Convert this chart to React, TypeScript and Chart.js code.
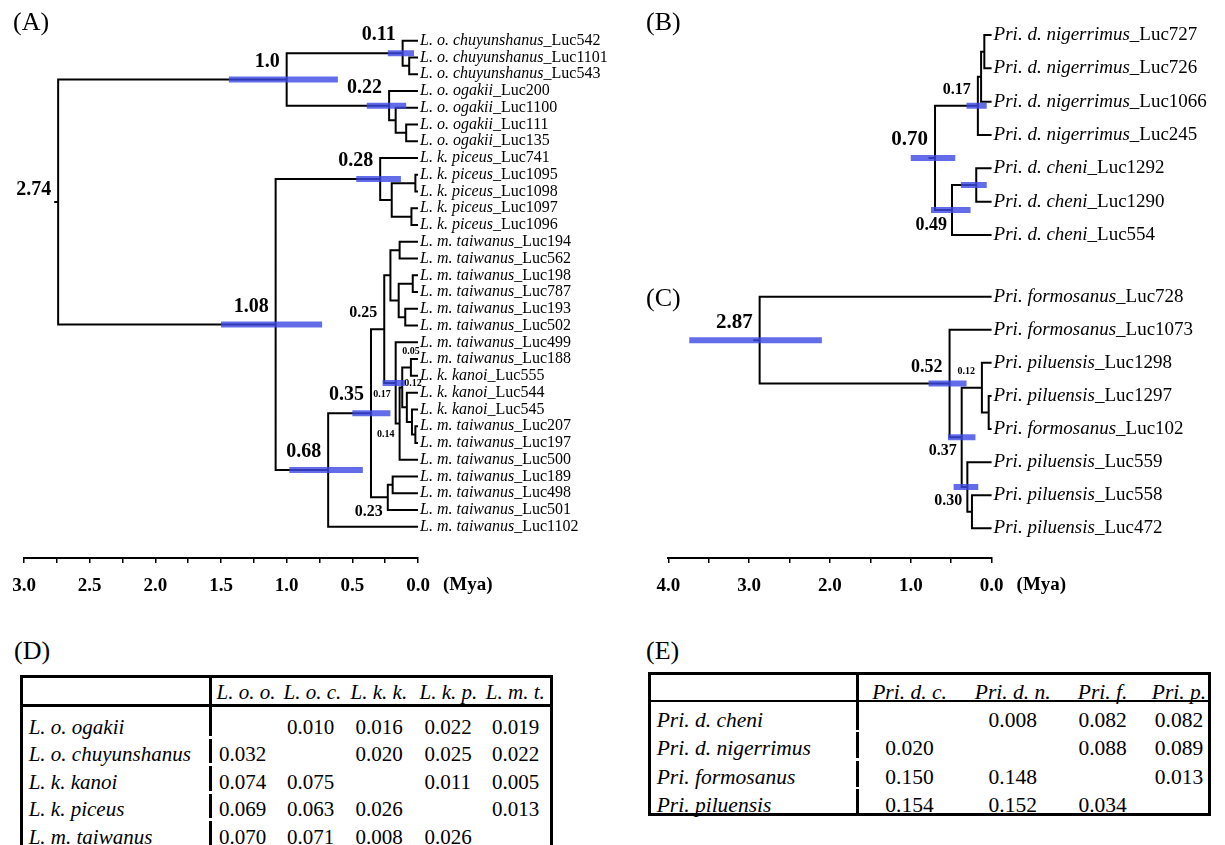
import React, { useEffect, useRef } from 'react';
import { Chart, registerables } from 'chart.js';
Chart.register(...registerables);

const SERIF = '"Liberation Serif", "Times New Roman", Times, serif';
const BAR = 'rgba(60,72,228,0.8)';
const SIZES: Record<string, number> = { xl: 21, lg: 20, ml: 18, md: 16, sm: 10 };

type Child = number | string;
type NodeDef = [string, number, Child, Child];

// ---------------- Panel A ----------------
const tipSpeciesA = [
  'L. o. chuyunshanus', 'L. o. chuyunshanus', 'L. o. chuyunshanus',
  'L. o. ogakii', 'L. o. ogakii', 'L. o. ogakii', 'L. o. ogakii',
  'L. k. piceus', 'L. k. piceus', 'L. k. piceus', 'L. k. piceus', 'L. k. piceus',
  'L. m. taiwanus', 'L. m. taiwanus', 'L. m. taiwanus', 'L. m. taiwanus', 'L. m. taiwanus', 'L. m. taiwanus',
  'L. m. taiwanus', 'L. m. taiwanus', 'L. k. kanoi', 'L. k. kanoi', 'L. k. kanoi',
  'L. m. taiwanus', 'L. m. taiwanus', 'L. m. taiwanus', 'L. m. taiwanus', 'L. m. taiwanus', 'L. m. taiwanus', 'L. m. taiwanus',
];
const tipCodesA = [
  'Luc542', 'Luc1101', 'Luc543', 'Luc200', 'Luc1100', 'Luc111', 'Luc135',
  'Luc741', 'Luc1095', 'Luc1098', 'Luc1097', 'Luc1096',
  'Luc194', 'Luc562', 'Luc198', 'Luc787', 'Luc193', 'Luc502', 'Luc499', 'Luc188',
  'Luc555', 'Luc544', 'Luc545', 'Luc207', 'Luc197', 'Luc500', 'Luc189', 'Luc498', 'Luc501', 'Luc1102',
];
// [node id, age (Mya), child, child]  (numbers = tip index)
const nodesA: NodeDef[] = [
  ['c1', 0.067, 1, 2],
  ['n011', 0.117, 0, 'c1'],
  ['o3', 0.09, 5, 6],
  ['o2', 0.17, 4, 'o3'],
  ['n022', 0.22, 3, 'o2'],
  ['n10', 1.0, 'n011', 'n022'],
  ['p2', 0.02, 8, 9],
  ['p3', 0.05, 10, 11],
  ['p1', 0.2, 'p2', 'p3'],
  ['n028', 0.288, 7, 'p1'],
  ['t1', 0.14, 12, 13],
  ['t3', 0.04, 14, 15],
  ['t4', 0.097, 16, 17],
  ['t2', 0.147, 't3', 't4'],
  ['u', 0.21, 't1', 't2'],
  ['kp1', 0.054, 19, 20],
  ['kp2', 0.02, 23, 24],
  ['k5', 0.046, 22, 'kp2'],
  ['k4', 0.085, 21, 'k5'],
  ['k3', 0.12, 'kp1', 'k4'],
  ['k2', 0.14, 'k3', 25],
  ['k', 0.17, 18, 'k2'],
  ['n025', 0.257, 'u', 'k'],
  ['m2', 0.193, 26, 27],
  ['n023', 0.23, 'm2', 28],
  ['n035', 0.358, 'n025', 'n023'],
  ['n068', 0.684, 'n035', 29],
  ['n108', 1.084, 'n028', 'n068'],
  ['rootA', 2.74, 'n10', 'n108'],
];
// [node id, 95% HPD low, high]
const hpdA: [string, number, number][] = [
  ['n10', 0.61, 1.44], ['n011', 0.03, 0.23], ['n022', 0.09, 0.39], ['n108', 0.73, 1.5],
  ['n028', 0.13, 0.47], ['n068', 0.42, 0.98], ['n035', 0.21, 0.5], ['k', 0.1, 0.27],
];
// [node id, text, size key, placement]
const labelsA: [string, string, string, string][] = [
  ['rootA', '2.74', 'lg', 'left'], ['n10', '1.0', 'lg', 'above'], ['n011', '0.11', 'lg', 'above'],
  ['n022', '0.22', 'lg', 'above'], ['n028', '0.28', 'lg', 'above'], ['n108', '1.08', 'lg', 'above'],
  ['n068', '0.68', 'lg', 'above'], ['n035', '0.35', 'lg', 'above'], ['n025', '0.25', 'md', 'above'],
  ['n023', '0.23', 'md', 'below'], ['kp1', '0.05', 'sm', 'aboveC'], ['k', '0.17', 'sm', 'below'],
  ['k2', '0.14', 'sm', 'below'], ['k3', '0.12', 'sm', 'right'],
];
const rootStemA = 0.03;
const tickLabelsA = [3.0, 2.5, 2.0, 1.5, 1.0, 0.5, 0.0];

// ---------------- Panel B ----------------
const tipSpeciesB = [
  'Pri. d. nigerrimus', 'Pri. d. nigerrimus', 'Pri. d. nigerrimus', 'Pri. d. nigerrimus',
  'Pri. d. cheni', 'Pri. d. cheni', 'Pri. d. cheni',
];
const tipCodesB = ['Luc727', 'Luc726', 'Luc1066', 'Luc245', 'Luc1292', 'Luc1290', 'Luc554'];
const nodesB: NodeDef[] = [
  ['b1', 0.09, 0, 1],
  ['b2', 0.13, 'b1', 2],
  ['b017', 0.17, 'b2', 3],
  ['bc', 0.19, 4, 5],
  ['b049', 0.49, 'bc', 6],
  ['rootB', 0.7, 'b017', 'b049'],
];
const hpdB: [string, number, number][] = [
  ['rootB', 0.45, 1.0], ['b017', 0.06, 0.31], ['bc', 0.06, 0.38], ['b049', 0.26, 0.75],
];
const labelsB: [string, string, string, string][] = [
  ['rootB', '0.70', 'xl', 'above'], ['b017', '0.17', 'md', 'above'], ['b049', '0.49', 'ml', 'below'],
];
const rootStemB = 0.08;

// ---------------- Panel C ----------------
const tipSpeciesC = [
  'Pri. formosanus', 'Pri. formosanus', 'Pri. piluensis', 'Pri. piluensis',
  'Pri. formosanus', 'Pri. piluensis', 'Pri. piluensis', 'Pri. piluensis',
];
const tipCodesC = ['Luc728', 'Luc1073', 'Luc1298', 'Luc1297', 'Luc102', 'Luc559', 'Luc558', 'Luc472'];
const nodesC: NodeDef[] = [
  ['cp1', 0.036, 3, 4],
  ['c012', 0.12, 2, 'cp1'],
  ['cp2', 0.243, 6, 7],
  ['c030', 0.3, 5, 'cp2'],
  ['c037', 0.37, 'c012', 'c030'],
  ['c052', 0.52, 1, 'c037'],
  ['rootC', 2.87, 0, 'c052'],
];
const hpdC: [string, number, number][] = [
  ['rootC', 2.1, 3.74], ['c052', 0.31, 0.78], ['c037', 0.2, 0.54], ['c030', 0.165, 0.47],
];
const labelsC: [string, string, string, string][] = [
  ['rootC', '2.87', 'xl', 'above'], ['c052', '0.52', 'ml', 'above'], ['c012', '0.12', 'sm', 'above'],
  ['c037', '0.37', 'md', 'below'], ['c030', '0.30', 'md', 'below'],
];
const rootStemC = 0.08;
const tickLabelsC = [4.0, 3.0, 2.0, 1.0, 0.0];

// ---------------- Tables ----------------
const colHeadsD = ['L. o. o.', 'L. o. c.', 'L. k. k.', 'L. k. p.', 'L. m. t.'];
const rowNamesD = ['L. o. ogakii', 'L. o. chuyunshanus', 'L. k. kanoi', 'L. k. piceus', 'L. m. taiwanus'];
const distD: (number | null)[][] = [
  [null, 0.010, 0.016, 0.022, 0.019],
  [0.032, null, 0.020, 0.025, 0.022],
  [0.074, 0.075, null, 0.011, 0.005],
  [0.069, 0.063, 0.026, null, 0.013],
  [0.070, 0.071, 0.008, 0.026, null],
];
const colHeadsE = ['Pri. d. c.', 'Pri. d. n.', 'Pri. f.', 'Pri. p.'];
const rowNamesE = ['Pri. d. cheni', 'Pri. d. nigerrimus', 'Pri. formosanus', 'Pri. piluensis'];
const distE: (number | null)[][] = [
  [null, 0.008, 0.082, 0.082],
  [0.020, null, 0.088, 0.089],
  [0.150, 0.148, null, 0.013],
  [0.154, 0.152, 0.034, null],
];

interface TreeCfg {
  species: string[]; codes: string[]; nodes: NodeDef[]; hpd: [string, number, number][];
  labels: [string, string, string, string][]; stem: number;
  xMax: number; stepMinor: number; tickLabels: number[] | null;
  left: number; top: number; width: number; height: number;
  areaLeft: number; areaRight: number; padTop: number; padBottom: number;
  tip0: number; tipN: number; tipFont: number;
}

function buildChart(canvas: HTMLCanvasElement, cfg: TreeCfg) {
  const pos: Record<string, { x: number; y: number }> = {};
  const get = (c: Child) => (typeof c === 'number' ? { x: 0, y: c } : pos[c]);
  const branch: any[] = [];
  for (const [id, age, a, b] of cfg.nodes) {
    const pa = get(a), pb = get(b);
    pos[id] = { x: age, y: (pa.y + pb.y) / 2 };
    branch.push({ x: pa.x, y: pa.y }, { x: age, y: pa.y }, { x: age, y: pb.y }, { x: pb.x, y: pb.y }, { x: age, y: null });
  }
  const root = cfg.nodes[cfg.nodes.length - 1];
  const rp = pos[root[0]];
  branch.push({ x: rp.x, y: rp.y }, { x: rp.x + cfg.stem, y: rp.y }, { x: rp.x, y: null });
  const bars: any[] = [];
  for (const [id, lo, hi] of cfg.hpd) {
    bars.push({ x: lo, y: pos[id].y }, { x: hi, y: pos[id].y }, { x: lo, y: null });
  }
  const axis = !!cfg.tickLabels;
  const axisH = 42;
  const areaTop = cfg.padTop;
  const areaBottom = cfg.height - cfg.padBottom - (axis ? axisH : 0);
  const n = cfg.species.length - 1;
  const s = (cfg.tipN - cfg.tip0) / n;
  const yMin = -(cfg.tip0 - areaTop) / s;
  const yMax = n + (areaBottom - cfg.tipN) / s;

  const labelPlugin = {
    id: 'treeLabels',
    afterDatasetsDraw(chart: any) {
      const { ctx } = chart;
      const xs = chart.scales.x, ys = chart.scales.y;
      ctx.save();
      ctx.fillStyle = '#000';
      ctx.textBaseline = 'middle';
      cfg.species.forEach((sp, i) => {
        const x = xs.getPixelForValue(0) + 2;
        const y = ys.getPixelForValue(i);
        ctx.textAlign = 'left';
        ctx.font = `italic ${cfg.tipFont}px ${SERIF}`;
        ctx.fillText(sp, x, y);
        const w = ctx.measureText(sp).width;
        ctx.font = `${cfg.tipFont}px ${SERIF}`;
        ctx.fillText('_' + cfg.codes[i], x + w, y);
      });
      for (const [id, text, size, place] of cfg.labels) {
        const p = pos[id];
        const fs = SIZES[size];
        const px = xs.getPixelForValue(p.x), py = ys.getPixelForValue(p.y);
        ctx.font = `bold ${fs}px ${SERIF}`;
        if (place === 'above') {
          ctx.textAlign = 'right';
          ctx.fillText(text, px - 7, py - (fs >= 20 ? 18 : 16));
        } else if (place === 'left') {
          ctx.textAlign = 'right';
          ctx.fillText(text, px - 7, py - 12);
        } else if (place === 'below') {
          ctx.textAlign = 'right';
          ctx.fillText(text, px - 5, py + 6 + fs / 2);
        } else if (place === 'aboveC') {
          ctx.textAlign = 'center';
          ctx.fillText(text, px, py - 16);
        } else {
          ctx.textAlign = 'left';
          ctx.fillText(text, px + 2, py - 4);
        }
      }
      if (axis) {
        ctx.font = `bold 19px ${SERIF}`;
        ctx.textAlign = 'left';
        ctx.fillText('(Mya)', xs.getPixelForValue(0) + 25, chart.chartArea.bottom + 27);
      }
      ctx.restore();
    },
  };

  const xScale: any = {
    type: 'linear', reverse: true, min: 0, max: cfg.xMax, display: axis,
    ticks: {
      stepSize: cfg.stepMinor, autoSkip: false, maxRotation: 0, padding: 12, color: '#000',
      font: { family: SERIF, size: 19, weight: 'bold' },
      callback: (v: any) => (cfg.tickLabels && cfg.tickLabels.some((t) => Math.abs(t - Number(v)) < 1e-6) ? Number(v).toFixed(1) : ''),
    },
    grid: { drawOnChartArea: false, drawTicks: true, tickLength: 5, color: '#000', lineWidth: 1.5 },
    border: { display: true, color: '#000', width: 2 },
  };
  if (axis) xScale.afterFit = (sc: any) => { sc.height = axisH; };

  return new Chart(canvas, {
    type: 'scatter',
    data: {
      datasets: [
        { data: bars, showLine: true, borderColor: BAR, borderWidth: 6, pointRadius: 0, borderCapStyle: 'butt', spanGaps: false, clip: false, order: 0 } as any,
        { data: branch, showLine: true, borderColor: '#000', borderWidth: 2, pointRadius: 0, borderJoinStyle: 'miter', borderCapStyle: 'butt', spanGaps: false, clip: false, order: 1 } as any,
      ],
    },
    options: {
      responsive: false,
      animation: false,
      events: [],
      layout: { padding: { left: cfg.areaLeft, right: cfg.width - cfg.areaRight, top: cfg.padTop, bottom: cfg.padBottom } },
      plugins: { legend: { display: false }, tooltip: { enabled: false } },
      scales: {
        x: xScale,
        y: { type: 'linear', display: false, reverse: true, min: yMin, max: yMax },
      },
    } as any,
    plugins: [labelPlugin],
  });
}

function TreeCanvas({ cfg }: { cfg: TreeCfg }) {
  const ref = useRef<HTMLCanvasElement>(null);
  useEffect(() => {
    const chart = buildChart(ref.current as HTMLCanvasElement, cfg);
    return () => chart.destroy();
  }, []);
  return (
    <canvas
      ref={ref}
      width={cfg.width}
      height={cfg.height}
      style={{ position: 'absolute', left: cfg.left, top: cfg.top, width: cfg.width, height: cfg.height }}
    />
  );
}

const cfgA: TreeCfg = {
  species: tipSpeciesA, codes: tipCodesA, nodes: nodesA, hpd: hpdA, labels: labelsA, stem: rootStemA,
  xMax: 3, stepMinor: 0.25, tickLabels: tickLabelsA,
  left: 0, top: 0, width: 620, height: 610, areaLeft: 24, areaRight: 418, padTop: 14, padBottom: 10,
  tip0: 40.7, tipN: 526.7, tipFont: 16,
};
const cfgB: TreeCfg = {
  species: tipSpeciesB, codes: tipCodesB, nodes: nodesB, hpd: hpdB, labels: labelsB, stem: rootStemB,
  xMax: 4, stepMinor: 0.5, tickLabels: null,
  left: 620, top: 0, width: 605, height: 270, areaLeft: 48.3, areaRight: 371.6, padTop: 10, padBottom: 10,
  tip0: 35, tipN: 235, tipFont: 19,
};
const cfgC: TreeCfg = {
  species: tipSpeciesC, codes: tipCodesC, nodes: nodesC, hpd: hpdC, labels: labelsC, stem: rootStemC,
  xMax: 4, stepMinor: 0.5, tickLabels: tickLabelsC,
  left: 620, top: 270, width: 605, height: 340, areaLeft: 48.3, areaRight: 371.6, padTop: 10, padBottom: 10,
  tip0: 26.7, tipN: 258.3, tipFont: 19,
};

const abs = (left: number, top: number, extra: React.CSSProperties = {}): React.CSSProperties => ({
  position: 'absolute', left, top, ...extra,
});
const fmt = (v: number | null) => (v === null ? '' : v.toFixed(3));

function PanelLetter({ text, left, cy }: { text: string; left: number; cy: number }) {
  return <div style={abs(left, cy - 15, { fontFamily: SERIF, fontSize: 26, lineHeight: '30px', color: '#000' })}>{text}</div>;
}

function TableD() {
  const fs = 21, lh = 26;
  const headX = [216.5, 283.5, 350.6, 419.5, 485.8];
  const valX = [219, 287, 355.6, 424.5, 492];
  const rowY = (r: number) => 726.7 + 27.5 * r;
  const txt = (italic: boolean): React.CSSProperties => ({ fontFamily: SERIF, fontSize: fs, lineHeight: lh + 'px', fontStyle: italic ? 'italic' : 'normal', whiteSpace: 'nowrap', color: '#000' });
  return (
    <>
      <div style={abs(19.5, 675.2, { width: 533.7, height: 260, border: '3px solid #000', boxSizing: 'border-box' })} />
      <div style={abs(19.5, 703.5, { width: 533.7, height: 3, background: '#000' })} />
      <div style={abs(209.2, 675.2, { width: 3, height: 30, background: '#000' })} />
      {rowNamesD.map((_, r) => (
        <div key={'sd' + r} style={abs(209.2, r === 0 ? 706.5 : rowY(r) - 15.5, { width: 3, height: r === 0 ? rowY(0) + 9 - 706.5 : 24.5, background: '#000' })} />
      ))}
      {colHeadsD.map((h, c) => (
        <div key={'hd' + c} style={abs(headX[c], 691.7 - lh / 2, txt(true))}>{h}</div>
      ))}
      {rowNamesD.map((name, r) => (
        <React.Fragment key={'rd' + r}>
          <div style={abs(28.7, rowY(r) - lh / 2, txt(true))}>{name}</div>
          {distD[r].map((v, c) => (
            <div key={c} style={abs(valX[c], rowY(r) - lh / 2, txt(false))}>{fmt(v)}</div>
          ))}
        </React.Fragment>
      ))}
    </>
  );
}

function TableE() {
  const fs = 21.5, lh = 26;
  const colC = [909.5, 1012.7, 1102.6, 1179];
  const rowY = (r: number) => 720 + 28.3 * r;
  const txt = (italic: boolean): React.CSSProperties => ({ fontFamily: SERIF, fontSize: fs, lineHeight: lh + 'px', fontStyle: italic ? 'italic' : 'normal', whiteSpace: 'nowrap', color: '#000' });
  const centered = (cx: number, cy: number): React.CSSProperties => abs(cx - 60, cy - lh / 2, { width: 120, textAlign: 'center' });
  return (
    <>
      <div style={abs(647.5, 671.8, { width: 563, height: 144.7, border: '3px solid #000', boxSizing: 'border-box' })} />
      <div style={abs(647.5, 700, { width: 563, height: 2, background: '#000' })} />
      <div style={abs(856, 671.8, { width: 3, height: 29, background: '#000' })} />
      {rowNamesE.map((_, r) => (
        <div key={'se' + r} style={abs(856, r === 0 ? 702 : rowY(r) - 16, { width: 3, height: r === 0 ? rowY(0) + 10 - 702 : 26, background: '#000' })} />
      ))}
      {colHeadsE.map((h, c) => (
        <div key={'he' + c} style={{ ...centered(colC[c], 691.7), ...txt(true) }}>{h}</div>
      ))}
      {rowNamesE.map((name, r) => (
        <React.Fragment key={'re' + r}>
          <div style={{ ...abs(656.7, rowY(r) - lh / 2), ...txt(true) }}>{name}</div>
          {distE[r].map((v, c) => (
            <div key={c} style={{ ...centered(colC[c], rowY(r)), ...txt(false) }}>{fmt(v)}</div>
          ))}
        </React.Fragment>
      ))}
    </>
  );
}

export default function App() {
  return (
    <div style={{ position: 'fixed', left: 0, top: 0, width: 1225, height: 845, overflow: 'hidden', background: '#fff' }}>
      <TreeCanvas cfg={cfgA} />
      <TreeCanvas cfg={cfgB} />
      <TreeCanvas cfg={cfgC} />
      <PanelLetter text="(A)" left={13} cy={22} />
      <PanelLetter text="(B)" left={646} cy={22} />
      <PanelLetter text="(C)" left={646} cy={298} />
      <PanelLetter text="(D)" left={14} cy={651} />
      <PanelLetter text="(E)" left={646} cy={651} />
      <TableD />
      <TableE />
    </div>
  );
}
